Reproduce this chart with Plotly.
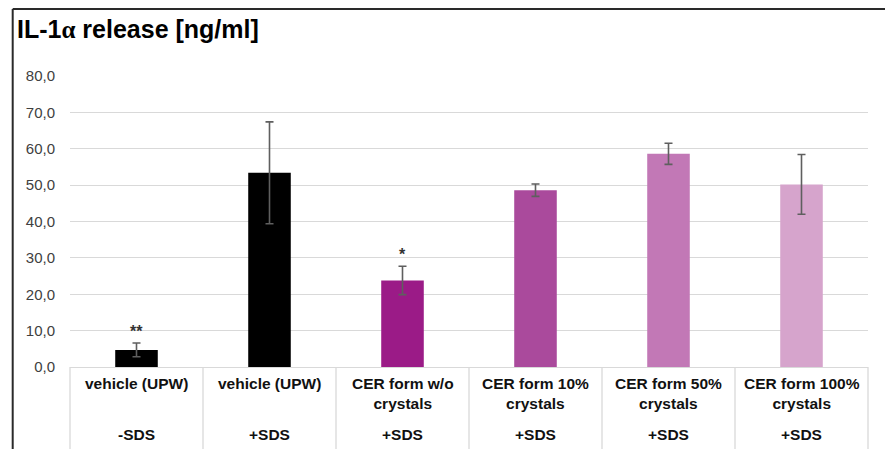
import plotly.graph_objects as go

# IL-1alpha release per treatment group
groups = ["vehicle (UPW)", "vehicle (UPW)", "CER form w/o<br>crystals",
          "CER form 10%<br>crystals", "CER form 50%<br>crystals", "CER form 100%<br>crystals"]
sds = ["-SDS", "+SDS", "+SDS", "+SDS", "+SDS", "+SDS"]
release = [4.7, 53.4, 23.8, 48.6, 58.6, 50.2]
sd = [1.9, 14.0, 3.9, 1.7, 2.9, 8.2]
signif = ["**", "", "*", "", "", ""]
colors = ["#000000", "#000000", "#9b1b87", "#aa4a9c", "#c278b6", "#d6a4cc"]
y_ticks = [0, 10, 20, 30, 40, 50, 60, 70, 80]

W, H = 885, 449
L, R, T, B = 70, 17, 76, 82.3
plot_w = W - L - R
plot_h = H - T - B


def px_x(px):
    return (px - L) / plot_w


def px_y(py):
    return (H - B - py) / plot_h


FONT = "Liberation Sans, Arial, sans-serif"
GRID = "#d9d9d9"
n = len(release)
xs = list(range(n))

fig = go.Figure()
fig.add_trace(go.Bar(
    x=xs, y=release, width=0.32,
    marker=dict(color=colors, line=dict(width=0)),
    error_y=dict(type="data", array=sd, visible=True,
                 color="#5f5f5f", thickness=1.6, width=4),
    showlegend=False, hoverinfo="skip",
))

annotations = []
# significance marks above the error bars
for i, s in enumerate(signif):
    if s:
        annotations.append(dict(
            x=i, y=release[i] + sd[i], xref="x", yref="y", text=f"<b>{s}</b>",
            showarrow=False, yanchor="bottom", yshift=1,
            font=dict(family=FONT, size=16, color="#333333")))

# two-level category labels under the axis
for i in xs:
    annotations.append(dict(
        x=i, y=px_y(373), xref="x", yref="paper", text=f"<b>{groups[i]}</b>",
        showarrow=False, yanchor="top", align="center",
        font=dict(family=FONT, size=15.5, color="#111111")))
    annotations.append(dict(
        x=i, y=px_y(434), xref="x", yref="paper", text=f"<b>{sds[i]}</b>",
        showarrow=False, yanchor="middle",
        font=dict(family=FONT, size=15.5, color="#111111")))

shapes = []
# table dividers between categories
for k in range(n + 1):
    shapes.append(dict(type="line", xref="x domain", yref="paper",
                       x0=k / n, x1=k / n, y0=0, y1=px_y(H + 2),
                       line=dict(color=GRID, width=1.3)))
# outer frame (top and left edges)
shapes.append(dict(type="line", xref="paper", yref="paper",
                   x0=px_x(12.7), x1=px_x(W + 5), y0=px_y(9), y1=px_y(9),
                   line=dict(color="#2a2a2a", width=2)))
shapes.append(dict(type="line", xref="paper", yref="paper",
                   x0=px_x(12.7), x1=px_x(12.7), y0=px_y(9), y1=px_y(H + 5),
                   line=dict(color="#2a2a2a", width=2)))

fig.update_layout(
    width=W, height=H,
    margin=dict(l=L, r=R, t=T, b=B, autoexpand=False),
    paper_bgcolor="white", plot_bgcolor="white",
    separators=",.",
    title=dict(
        text='<b>IL-1<span style="font-family:Liberation Serif, serif">α</span> release [ng/ml]</b>',
        font=dict(family=FONT, size=25, color="#000000"),
        xref="container", yref="container", x=17 / W, y=1 - 29 / H,
        xanchor="left", yanchor="middle"),
    xaxis=dict(range=[-0.5, n - 0.5], showticklabels=False, showgrid=False,
               zeroline=False, showline=True, linecolor=GRID, linewidth=1.3,
               ticks="", fixedrange=True),
    yaxis=dict(range=[0, 80], tickvals=y_ticks, tickformat=".1f",
               showgrid=True, gridcolor=GRID, gridwidth=1.3,
               zeroline=False, showline=False, ticks="",
               ticklabelstandoff=14,
               tickfont=dict(family=FONT, size=15, color="#404040")),
    annotations=annotations,
    shapes=shapes,
    bargap=0.68,
)

fig.write_html("out.html")
